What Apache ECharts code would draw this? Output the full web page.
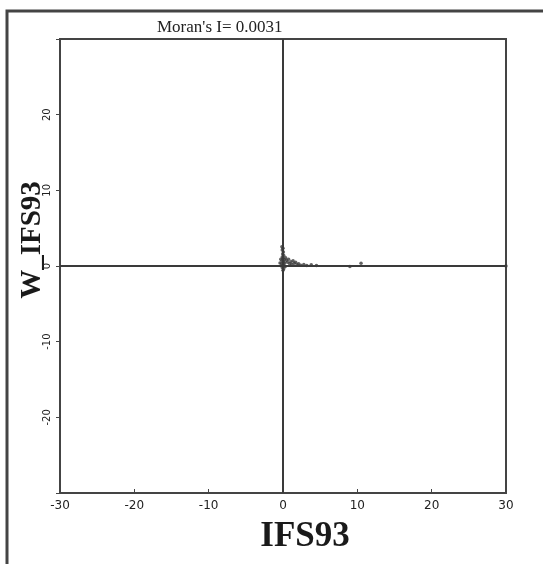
<!DOCTYPE html>
<html>
<head>
<meta charset="utf-8">
<style>
  html, body { margin: 0; padding: 0; background: #ffffff; }
  #chart { width: 543px; height: 564px; }
</style>
<script src="https://cdn.jsdelivr.net/npm/echarts@6/dist/echarts.min.js"></script>
</head>
<body>
<div id="chart"></div>
<script>
// Moran scatter: standardised IFS93 against its spatial lag W_IFS93
const ifs93 = [
  -0.15, 0.0, -0.1, 0.05, -0.05, 0.1, -0.1, 0.0, 0.15, -0.15,
  0.05, 0.2, -0.2, 0.1, -0.05, 0.3, -0.1, 0.1, 0.0,
  0.35, 0.45, 0.6, 0.75, 0.9, 1.05, 1.2, 1.35, 1.5, 1.7,
  1.9, 2.1, 2.4, 2.8, 3.2, 3.8, 4.5, 9.0, 10.5, 30.0,
  -0.4, -0.3
];
const wIfs93 = [
  2.55, 2.35, 2.1, 1.85, 1.6, 1.4, 1.2, 1.0, 0.85, 0.7,
  0.55, 0.4, 0.3, 0.15, 0.05, -0.05, -0.2, -0.35, -0.55,
  1.1, 0.75, 0.5, 0.9, 0.3, 0.55, 0.2, 0.7, 0.35, 0.5,
  0.15, 0.3, 0.1, 0.2, 0.05, 0.15, 0.05, -0.05, 0.35, 0.0,
  0.4, 0.9
];
const xTicks = [-30, -20, -10, 0, 10, 20, 30];
const yTicks = [-30, -20, -10, 0, 10, 20, 30];
const moranI = '0.0031';

const points = ifs93.map((x, i) => [x, wIfs93[i]]);
const ink = '#3a3a3a';

const chart = echarts.init(document.getElementById('chart'), null, { renderer: 'canvas' });
chart.setOption({
  backgroundColor: '#ffffff',
  animation: false,
  title: {
    text: "Moran's I= " + moranI,
    left: 152,
    top: 14,
    textStyle: { fontFamily: 'Liberation Serif', fontSize: 17, fontWeight: 'normal', color: '#222' }
  },
  graphic: [
    {
      type: 'rect',
      shape: { x: 7, y: 11, width: 600, height: 620 },
      style: { fill: 'none', stroke: '#444', lineWidth: 3 },
      silent: true
    },
    {
      type: 'text',
      x: 305, y: 537,
      style: {
        text: 'IFS93', fill: '#1a1a1a',
        font: 'bold 35px "Liberation Serif"',
        align: 'center', verticalAlign: 'middle'
      }
    },
    {
      type: 'text',
      x: 33, y: 240,
      rotation: Math.PI / 2,
      style: {
        text: 'W_IFS93', fill: '#1a1a1a',
        font: 'bold 29px "Liberation Serif"',
        align: 'center', verticalAlign: 'middle'
      }
    }
  ],
  grid: {
    left: 60, right: 37, top: 39, bottom: 71,
    show: true, borderColor: '#444', borderWidth: 2, backgroundColor: '#ffffff'
  },
  xAxis: {
    type: 'value',
    min: xTicks[0], max: xTicks[xTicks.length - 1], interval: 10,
    axisLine: { onZero: false, lineStyle: { color: '#444', width: 2 } },
    axisTick: { inside: true, length: 4, lineStyle: { color: '#444' } },
    axisLabel: { fontFamily: 'DejaVu Sans', fontSize: 12, color: '#222', margin: 7 },
    splitLine: { show: false }
  },
  yAxis: {
    type: 'value',
    min: yTicks[0], max: yTicks[yTicks.length - 1], interval: 10,
    axisLine: { onZero: false, lineStyle: { color: '#444', width: 2 } },
    axisTick: { length: 4, lineStyle: { color: '#444' } },
    axisLabel: {
      rotate: 90, fontFamily: 'DejaVu Sans', fontSize: 10, color: '#222', margin: 8,
      formatter: v => (v === yTicks[0] || v === yTicks[yTicks.length - 1]) ? '' : String(v)
    },
    splitLine: { show: false }
  },
  series: [{
    type: 'scatter',
    data: points,
    symbol: 'circle',
    symbolSize: 3.5,
    itemStyle: { color: ink },
    markLine: {
      silent: true,
      symbol: 'none',
      label: { show: false },
      lineStyle: { color: ink, width: 2, type: 'solid' },
      data: [{ xAxis: 0 }, { yAxis: 0 }]
    }
  }]
});
</script>
</body>
</html>
